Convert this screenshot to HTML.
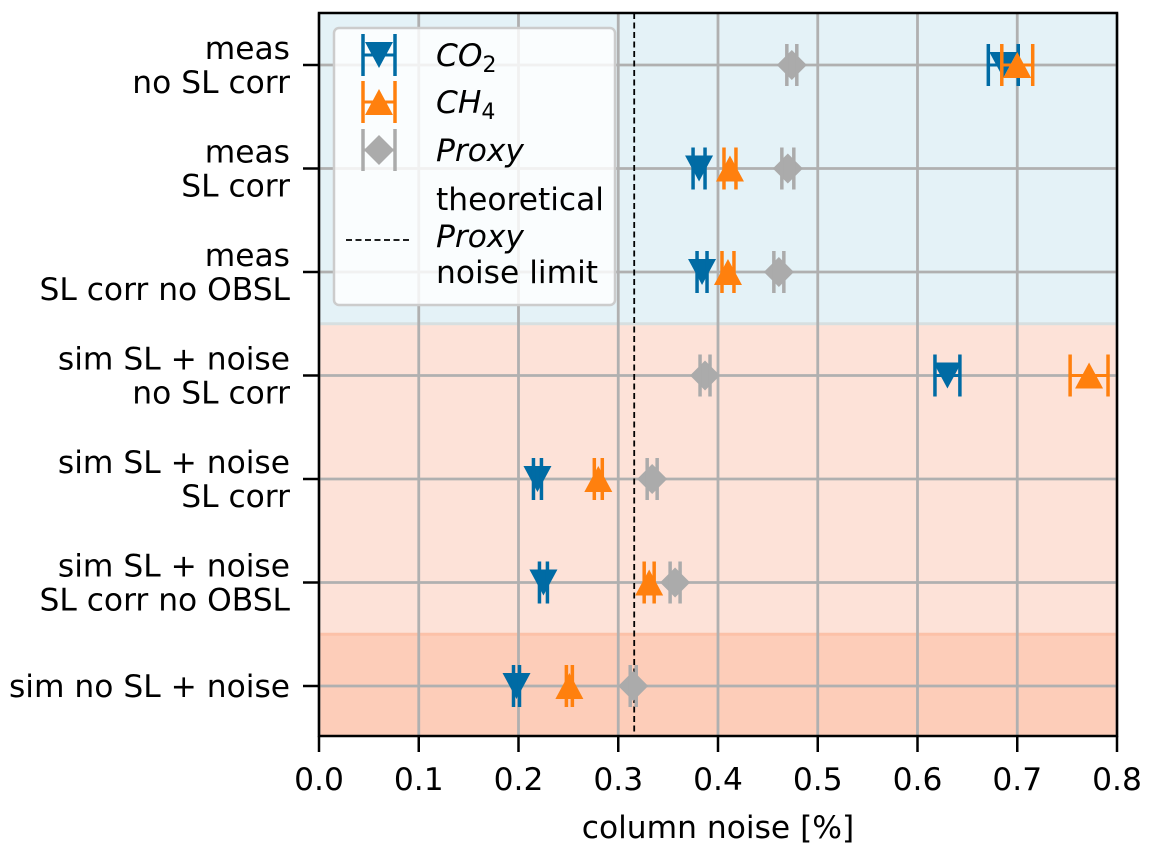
<!DOCTYPE html>
<html><head><meta charset="utf-8"><style>
html,body{margin:0;padding:0;background:#fff;}
svg{display:block;font-family:"DejaVu Sans","Liberation Sans",sans-serif;}
</style></head><body>
<svg id="chart" width="1151" height="854" viewBox="0 0 1151 854">
<g id="bg"></g><g id="grid"></g><g id="marks"></g><g id="axes"></g><g id="legend"></g>
</svg>
<script>
const categories = [["meas","no SL corr"],["meas","SL corr"],["meas","SL corr no OBSL"],["sim SL + noise","no SL corr"],["sim SL + noise","SL corr"],["sim SL + noise","SL corr no OBSL"],["sim no SL + noise"]];
const co2Values = [0.686,0.381,0.384,0.630,0.219,0.225,0.198];
const co2Errors = [0.015,0.006,0.005,0.0125,0.004,0.004,0.003];
const ch4Values = [0.700,0.412,0.410,0.772,0.280,0.331,0.251];
const ch4Errors = [0.0155,0.006,0.006,0.019,0.004,0.005,0.003];
const proxyValues = [0.474,0.470,0.461,0.387,0.334,0.357,0.315];
const proxyErrors = [0.005,0.006,0.005,0.005,0.005,0.005,0.003];
const noiseLimit = 0.316;
const xTicks = [0.0,0.1,0.2,0.3,0.4,0.5,0.6,0.7,0.8];
const xTickLabels = ["0.0","0.1","0.2","0.3","0.4","0.5","0.6","0.7","0.8"];

const NS="http://www.w3.org/2000/svg";
const L=319,R=1117,T=13,B=736;
const FS=31.3;
const x=v=>L+(v-0)/(0.8)*(R-L);
const y0=65,dy=103.5;
const y=i=>y0+i*dy;
function mk(tag,attrs,parent){const e=document.createElementNS(NS,tag);for(const k in attrs)e.setAttribute(k,attrs[k]);document.getElementById(parent).appendChild(e);return e;}

const bandBlue=(y(2)+y(3))/2, bandDark=(y(5)+y(6))/2;
let e;
e=mk('rect',{x:L,y:T,width:R-L,height:bandBlue-T,fill:'#e4f2f7'},'bg');


e=mk('rect',{x:L,y:bandBlue,width:R-L,height:bandDark-bandBlue,fill:'#fde2d8'},'bg');


e=mk('rect',{x:L,y:bandDark,width:R-L,height:B-bandDark,fill:'#fdcdb9'},'bg');


mk('line',{x1:L,x2:R,y1:bandBlue,y2:bandBlue,stroke:'#d7dfe0','stroke-width':3},'bg');
mk('line',{x1:L,x2:R,y1:bandDark,y2:bandDark,stroke:'#fcc1a8','stroke-width':3},'bg');

xTicks.forEach(t=>{e=mk('line',{x1:x(t),x2:x(t),y1:T,y2:B,stroke:'#b0b0b0','stroke-width':2.8},'grid');

});
categories.forEach((c,i)=>{e=mk('line',{x1:L,x2:R,y1:y(i),y2:y(i),stroke:'#b0b0b0','stroke-width':2.8},'grid');

});

e=mk('line',{x1:x(noiseLimit),x2:x(noiseLimit),y1:T,y2:B,stroke:'#000','stroke-width':1.8,'stroke-dasharray':'6,3.5'},'marks');



function marker(shape,cx,cy,color,parent){
  if(shape==='down') return mk('polygon',{points:`${cx-14},${cy-13} ${cx+14},${cy-13} ${cx},${cy+13}`,fill:color},parent);
  if(shape==='up') return mk('polygon',{points:`${cx-14},${cy+13} ${cx+14},${cy+13} ${cx},${cy-13}`,fill:color},parent);
  return mk('polygon',{points:`${cx-15},${cy} ${cx},${cy-15} ${cx+15},${cy} ${cx},${cy+15}`,fill:color},parent);
}
function series(vals,errs,color,shape,name){
  vals.forEach((v,i)=>{
    const cy=y(i),x1=x(v-errs[i]),x2=x(v+errs[i]);
    let b=mk('line',{x1:x1,x2:x2,y1:cy,y2:cy,stroke:color,'stroke-width':3},'marks');
    
    
    let m=marker(shape,x(v),cy,color,'marks');
    
    
    [x1,x2].forEach(cx=>{let c=mk('line',{x1:cx,x2:cx,y1:cy-21,y2:cy+21,stroke:color,'stroke-width':3.5},'marks');
      
      });
  });
}
series(proxyValues,proxyErrors,'#ababab','diamond','proxy');
series(co2Values,co2Errors,'#006ba4','down','co2');
series(ch4Values,ch4Errors,'#ff800e','up','ch4');

e=mk('rect',{x:L,y:T,width:R-L,height:B-T,fill:'none',stroke:'#000','stroke-width':2.5},'axes');


xTicks.forEach((t,i)=>{
  mk('line',{x1:x(t),x2:x(t),y1:B,y2:B+16,stroke:'#000','stroke-width':2.5},'axes');
  let tx=mk('text',{x:x(t),y:790,'text-anchor':'middle','font-size':FS,fill:'#000'},'axes');
  tx.textContent=xTickLabels[i];
  
  
});
categories.forEach((c,i)=>{
  mk('line',{x1:L-16,x2:L,y1:y(i),y2:y(i),stroke:'#000','stroke-width':2.5},'axes');
  let tx=mk('text',{'text-anchor':'end','font-size':FS,fill:'#000'},'axes');
  
  
  if(c.length===1){tx.setAttribute('x',290);tx.setAttribute('y',y(i)+11);tx.textContent=c[0];}
  else{c.forEach((s,j)=>{const ts=document.createElementNS(NS,'tspan');ts.setAttribute('x',290);ts.setAttribute('y',y(i)-6+j*34);ts.textContent=s;tx.appendChild(ts);});}
});
e=mk('text',{x:(L+R)/2,y:838,'text-anchor':'middle','font-size':FS,fill:'#000'},'axes');
e.textContent='column noise [%]';



e=mk('rect',{x:334,y:28,width:281,height:277,rx:5,fill:'rgba(255,255,255,0.82)',stroke:'#cccccc','stroke-width':2.5},'legend');


const legItems=[['#006ba4','down',55,'CO','2','legend-co2'],['#ff800e','up',102,'CH','4','legend-ch4'],['#ababab','diamond',150,'Proxy','','legend-proxy']];
legItems.forEach(it=>{
  const cx=379,cy=it[2];
  mk('line',{x1:363,x2:395,y1:cy,y2:cy,stroke:it[0],'stroke-width':3},'legend');
  let m=marker(it[1],cx,cy,it[0],'legend');
  
  
  [363,395].forEach(px=>mk('line',{x1:px,x2:px,y1:cy-21,y2:cy+21,stroke:it[0],'stroke-width':3.5},'legend'));
  let t=mk('text',{x:436,y:cy+11,'font-size':FS,'font-style':'italic',fill:'#000'},'legend');
  
  
  t.textContent=it[3];
  if(it[4]){const s=document.createElementNS(NS,'tspan');s.setAttribute('font-size',22);s.setAttribute('font-style','normal');s.setAttribute('dy',6);s.textContent=it[4];t.appendChild(s);}
});
mk('line',{x1:346,x2:410,y1:240,y2:240,stroke:'#000','stroke-width':1.8,'stroke-dasharray':'6,3.5'},'legend');
e=mk('text',{'font-size':FS,fill:'#000'},'legend');


[['theoretical',210,''],['Proxy',247,'italic'],['noise limit',283,'']].forEach(a=>{const s=document.createElementNS(NS,'tspan');s.setAttribute('x',436);s.setAttribute('y',a[1]);if(a[2])s.setAttribute('font-style',a[2]);s.textContent=a[0];e.appendChild(s);});
</script>
</body></html>
